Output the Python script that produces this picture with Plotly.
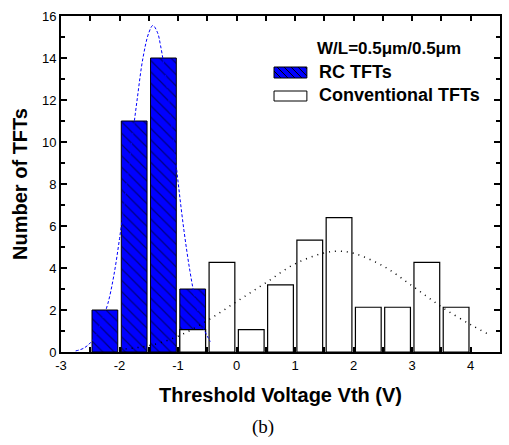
import plotly.graph_objects as go

# ---------------- data ----------------
rc_centers = [-2.25, -1.75, -1.25, -0.75]
rc_counts = [2, 11, 14, 3]

conv_centers = [-0.75, -0.25, 0.25, 0.75, 1.25, 1.75, 2.25, 2.75, 3.25, 3.75]
conv_counts = [1.07, 4.27, 1.07, 3.2, 5.33, 6.4, 2.13, 2.13, 4.27, 2.13]

rc_fit_x = [-2.75, -2.6, -2.45, -2.3, -2.2, -2.1, -2.0, -1.9, -1.8, -1.7, -1.6,
            -1.5, -1.43, -1.35, -1.3, -1.2, -1.1, -1.0, -0.9, -0.8, -0.7, -0.6,
            -0.5, -0.45]
rc_fit_y = [0.05, 0.2, 0.6, 1.5, 2.3, 3.6, 5.4, 7.5, 9.8, 12.0, 14.0,
            15.2, 15.55, 15.2, 14.6, 12.9, 10.6, 8.1, 5.8, 3.9, 2.4, 1.35,
            0.75, 0.5]

conv_fit_x = [-2.0, -1.5, -1.0, -0.5, 0.0, 0.5, 1.0, 1.5, 1.75, 2.0, 2.5,
              3.0, 3.5, 4.0, 4.3]
conv_fit_y = [0.12, 0.3, 0.75, 1.5, 2.4, 3.3, 4.2, 4.72, 4.8, 4.7, 4.1,
              3.15, 2.15, 1.3, 0.85]

x_tick_vals = [-3, -2, -1, 0, 1, 2, 3, 4]
x_tick_labels = ["-3", "-2", "-1", "0", "1", "2", "3", "4"]
y_tick_vals = [0, 2, 4, 6, 8, 10, 12, 14, 16]

legend_title = "W/L=0.5μm/0.5μm"
rc_name = "RC TFTs"
conv_name = "Conventional TFTs"
x_title = "Threshold Voltage Vth (V)"
y_title = "Number of TFTs"
caption = "(b)"

# ---------------- layout constants ----------------
W, H = 509, 445
ML, MR, MT, MB = 61, 7, 16, 93
PW, PH = W - ML - MR, H - MT - MB
BLUE = "#0000ff"
FONT = "Liberation Sans, Arial, sans-serif"


def px2paper(px, py):
    return (px - ML) / PW, (H - MB - py) / PH


fig = go.Figure()

fig.add_trace(go.Bar(
    x=rc_centers, y=rc_counts, width=0.44, name=rc_name, showlegend=False,
    marker=dict(color=BLUE, line=dict(color="black", width=1),
                pattern=dict(shape="\\", fgcolor="black", bgcolor=BLUE,
                             size=8, solidity=0.15)),
))
fig.add_trace(go.Bar(
    x=conv_centers, y=conv_counts, width=0.44, name=conv_name, showlegend=False,
    marker=dict(color="white", line=dict(color="black", width=1.2)),
))
fig.add_trace(go.Scatter(
    x=rc_fit_x, y=rc_fit_y, mode="lines", showlegend=False,
    line=dict(color=BLUE, width=1, dash="3px,2px", shape="spline"),
))
fig.add_trace(go.Scatter(
    x=conv_fit_x, y=conv_fit_y, mode="lines", showlegend=False,
    line=dict(color="black", width=1.5, dash="1px,5px", shape="spline"),
))

# ---------------- custom legend ----------------
shapes = []


def swatch(x0, y0, x1, y1, fill, hatch):
    a = px2paper(x0, y1)
    b = px2paper(x1, y0)
    shapes.append(dict(type="rect", xref="paper", yref="paper",
                       x0=a[0], y0=a[1], x1=b[0], y1=b[1],
                       fillcolor=fill, line=dict(color="black", width=1),
                       layer="above"))
    if hatch:
        h = y1 - y0
        step = 7
        path = ""
        s = x0 - h
        while s < x1:
            sx0, sy0 = s, y0
            sx1, sy1 = s + h, y1
            if sx0 < x0:
                sy0 = y0 + (x0 - sx0)
                sx0 = x0
            if sx1 > x1:
                sy1 = y1 - (sx1 - x1)
                sx1 = x1
            if sx1 > sx0:
                p0 = px2paper(sx0, sy0)
                p1 = px2paper(sx1, sy1)
                path += f"M{p0[0]},{p0[1]} L{p1[0]},{p1[1]} "
            s += step
        shapes.append(dict(type="path", xref="paper", yref="paper", path=path,
                           line=dict(color="black", width=1), layer="above"))


swatch(275, 67, 308, 78, BLUE, True)
swatch(275, 91, 308, 101, "white", False)

annotations = []


def label(text, px, py, size, family=FONT, bold=True, xanchor="left"):
    x, y = px2paper(px, py)
    annotations.append(dict(text=text, x=x, y=y, xref="paper", yref="paper",
                            xanchor=xanchor, yanchor="middle", showarrow=False,
                            font=dict(family=family, size=size, color="black",
                                      weight="bold" if bold else "normal")))


label(legend_title, 316, 48, 17)
label(rc_name, 318, 72, 18)
label(conv_name, 318, 95, 18)
label(caption, 264, 427, 19, family="Liberation Serif, Times New Roman, serif",
      bold=False, xanchor="center")

fig.update_layout(
    width=W, height=H,
    margin=dict(l=ML, r=MR, t=MT, b=MB),
    paper_bgcolor="white", plot_bgcolor="white",
    barmode="overlay",
    showlegend=False,
    font=dict(family=FONT, color="black", size=13),
    shapes=shapes,
    annotations=annotations,
    xaxis=dict(
        range=[-3, 4.5], tickvals=x_tick_vals, ticktext=x_tick_labels,
        ticks="inside", ticklen=5, tickwidth=1.5, tickcolor="black",
        minor=dict(dtick=0.5, tick0=-3, ticks="inside", ticklen=5,
                   tickwidth=1.5, tickcolor="black"),
        showline=True, linewidth=2, linecolor="black", mirror="ticks",
        showgrid=False, zeroline=False,
        tickfont=dict(size=13),
        title=dict(text=x_title, standoff=16,
                   font=dict(size=20, weight="bold")),
    ),
    yaxis=dict(
        range=[0, 16], tickvals=y_tick_vals,
        ticks="inside", ticklen=6, tickwidth=1.5, tickcolor="black",
        minor=dict(dtick=1, tick0=0, ticks="inside", ticklen=4,
                   tickwidth=1.5, tickcolor="black"),
        showline=True, linewidth=2, linecolor="black", mirror="ticks",
        showgrid=False, zeroline=False,
        tickfont=dict(size=13),
        title=dict(text=y_title, standoff=9,
                   font=dict(size=20, weight="bold")),
    ),
)

fig.write_html("out.html")
